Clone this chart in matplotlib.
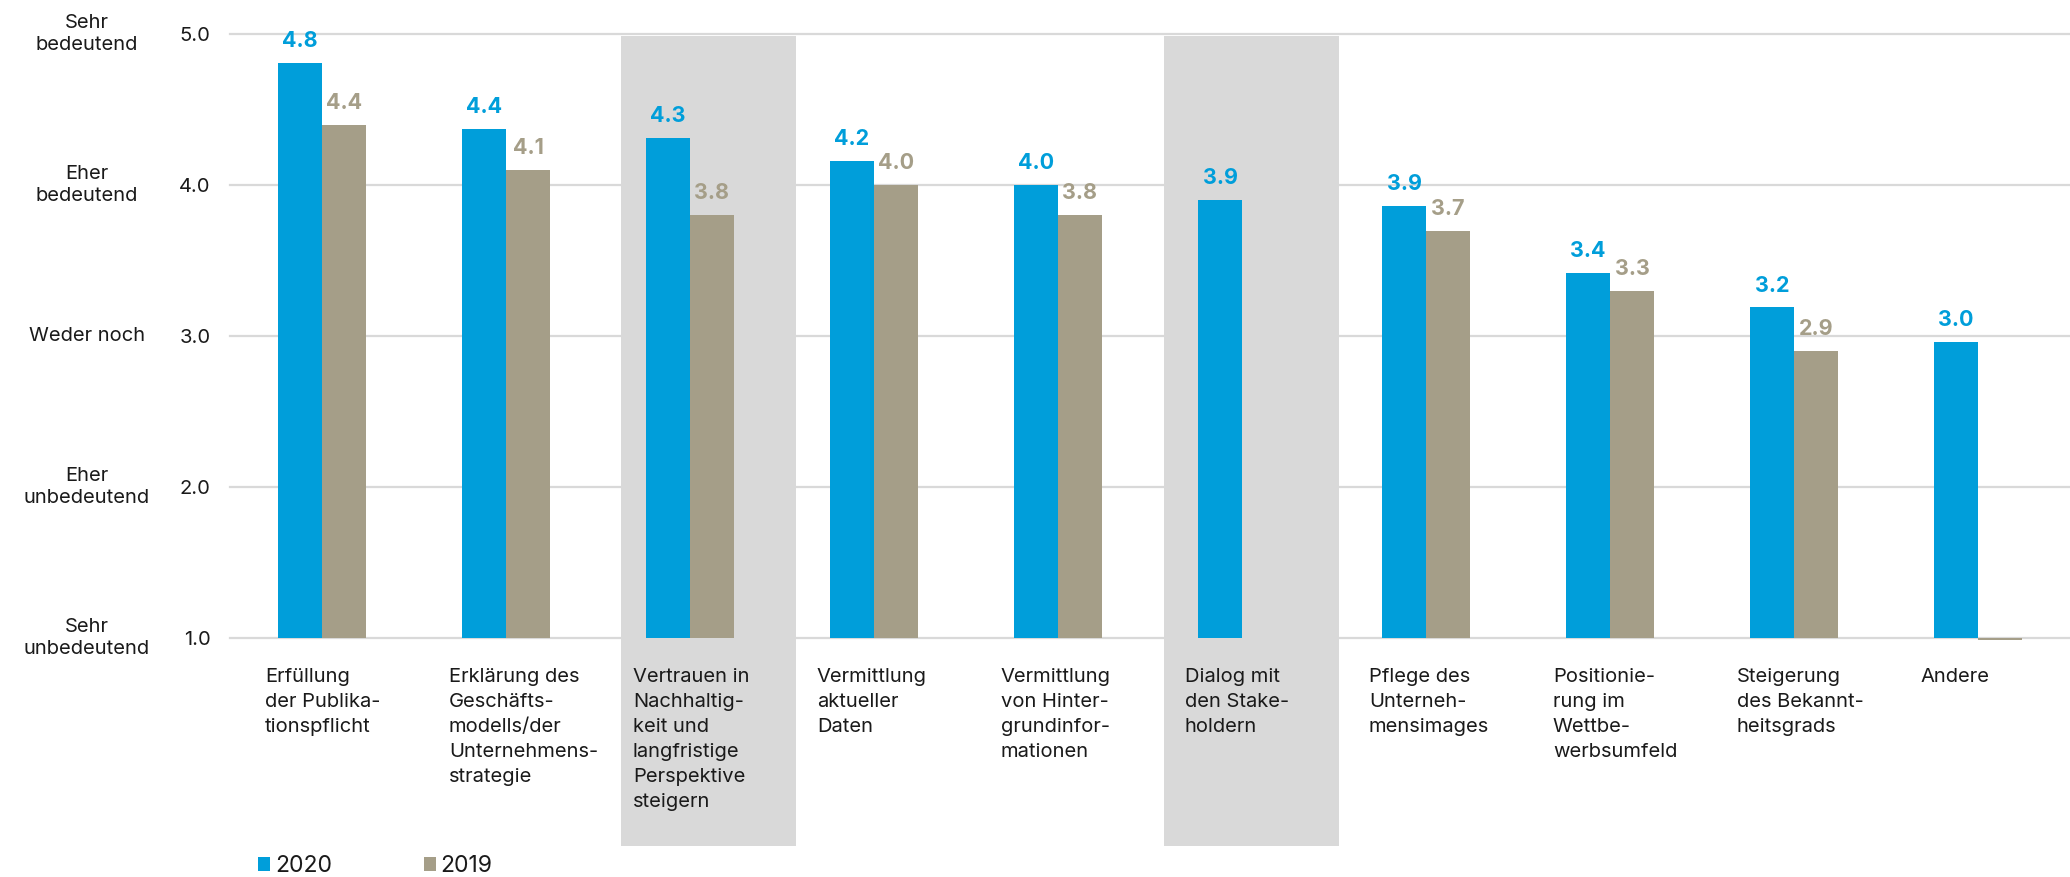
import numpy as np
import matplotlib
matplotlib.use("Agg")
import matplotlib.pyplot as plt
from matplotlib.patches import Rectangle
from matplotlib.transforms import blended_transform_factory

plt.rcParams['font.family'] = ['Inter', 'DejaVu Sans']

# Daten
categories = [
    "Erfüllung\nder Publika-\ntionspflicht",
    "Erklärung des\nGeschäfts-\nmodells/der\nUnternehmens-\nstrategie",
    "Vertrauen in\nNachhaltig-\nkeit und\nlangfristige\nPerspektive\nsteigern",
    "Vermittlung\naktueller\nDaten",
    "Vermittlung\nvon Hinter-\ngrundinfor-\nmationen",
    "Dialog mit\nden Stake-\nholdern",
    "Pflege des\nUnterneh-\nmensimages",
    "Positionie-\nrung im\nWettbe-\nwerbsumfeld",
    "Steigerung\ndes Bekannt-\nheitsgrads",
    "Andere",
]
values_2020 = [4.81, 4.37, 4.31, 4.16, 4.00, 3.90, 3.86, 3.42, 3.19, 2.96]
values_2019 = [4.40, 4.10, 3.80, 4.00, 3.80, np.nan, 3.70, 3.30, 2.90, 0.985]
series_names = ["2020", "2019"]
highlighted = [2, 5]  # hervorgehobene Kategorien
box_shift = [-0.375, -0.425]  # linker Rand der Kästen relativ zur Gruppenmitte

scale_ticks = [1, 2, 3, 4, 5]
scale_labels = ["Sehr\nunbedeutend", "Eher\nunbedeutend", "Weder noch",
                "Eher\nbedeutend", "Sehr\nbedeutend"]

# Farben
BLUE = "#009EDA"
TAUPE = "#A59E88"
GRID = "#D9D9D9"
BOX = "#D9D9D9"
TEXT = "#1A1A1A"

W, H = 2070, 877
fig = plt.figure(figsize=(W / 100, H / 100), dpi=100)
ax = fig.add_axes([230 / W, 1 - 638 / H, 1840 / W, (638 - 34.3) / H])

x = np.arange(len(categories))
bw = 0.2385
base = 1.0

# Hervorhebungskästen hinter den Balken
for i, sh in zip(highlighted, box_shift):
    ax.add_patch(Rectangle((i + sh, -0.38), 0.95, 4.99 + 0.38,
                           facecolor=BOX, edgecolor="none", zorder=1,
                           clip_on=False))

# Gitterlinien
for t in scale_ticks:
    ax.axhline(t, color=GRID, lw=1.6, zorder=0.5, clip_on=False)

v20 = np.array(values_2020)
v19 = np.array(values_2019)
b20 = ax.bar(x - bw / 2, v20 - base, bw, bottom=base, color=BLUE,
             zorder=2, label=series_names[0], clip_on=False)
b19 = ax.bar(x + bw / 2, v19 - base, bw, bottom=base, color=TAUPE,
             zorder=2, label=series_names[1], clip_on=False)

# Wertbeschriftungen
for vals, off, col in [(v20, -bw / 2, BLUE), (v19, bw / 2, TAUPE)]:
    for xi, v in zip(x, vals):
        if np.isnan(v) or v < base:
            continue
        ax.annotate(f"{v:.1f}", (xi + off, v), xytext=(0, 11.5),
                    textcoords="offset points", ha="center", va="baseline",
                    fontsize=15.5, fontweight="bold", color=col, zorder=3)

ax.set_xlim(-0.5, len(categories) - 0.5)
ax.set_ylim(1.0, 5.0)
ax.set_yticks(scale_ticks)
ax.set_yticklabels([f"{t:.1f}" for t in scale_ticks], fontsize=14.5, color=TEXT)
ax.tick_params(axis="y", length=0, pad=14)
ax.set_xticks([])
for s in ax.spines.values():
    s.set_visible(False)

# Skalenbeschriftung links
trans = blended_transform_factory(fig.transFigure, ax.transData)
for t, lab in zip(scale_ticks, scale_labels):
    ax.text(87 / W, t, lab, transform=trans, ha="center", va="center",
            fontsize=14.5, color=TEXT, linespacing=1.3)

# Kategorienbeschriftung
for xi, lab in zip(x, categories):
    ax.text(xi - 0.31, -0.050, lab, transform=ax.get_xaxis_transform(),
            ha="left", va="top", fontsize=14.5, color=TEXT, linespacing=1.5,
            zorder=3)

leg = ax.legend(handles=[b20, b19], labels=series_names, loc="center left",
                bbox_to_anchor=(258 / W, 1 - 866 / H),
                bbox_transform=fig.transFigure, frameon=False, ncol=2,
                fontsize=16.5, handlelength=0.52, handleheight=0.52,
                handletextpad=0.22, columnspacing=4.0, borderpad=0,
                borderaxespad=0)
for txt in leg.get_texts():
    txt.set_color(TEXT)

fig.savefig("out.png", dpi=100)
